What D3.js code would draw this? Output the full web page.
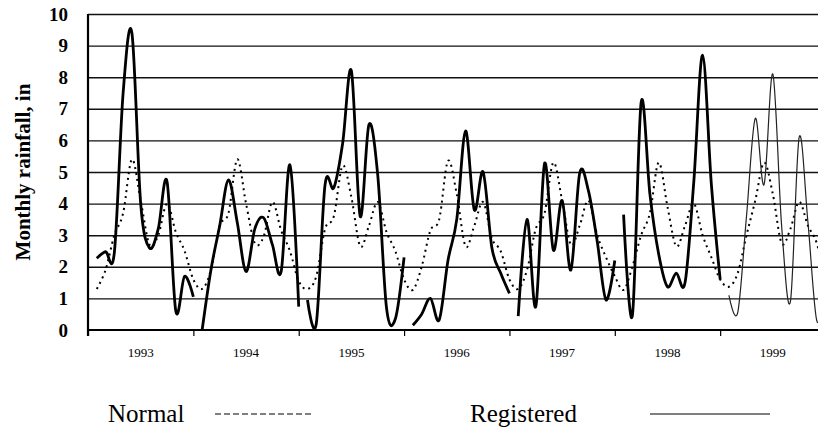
<!DOCTYPE html>
<html>
<head>
<meta charset="utf-8">
<script src="https://cdn.jsdelivr.net/npm/d3@7"></script>
<style>
  body { margin: 0; background: #fff; }
  svg { display: block; }
</style>
</head>
<body>
<svg id="chart" width="818" height="436"></svg>
<script>
// Years shown on the x axis (12 monthly values each)
const years = ["1993", "1994", "1995", "1996", "1997", "1998", "1999"];
const yTicks = [0, 1, 2, 3, 4, 5, 6, 7, 8, 9, 10];

// Registered monthly rainfall, inches (Jan..Dec)
const registered1993 = [2.27, 2.48, 2.45, 7.5, 9.4, 4.0, 2.6, 3.2, 4.7, 0.6, 1.7, 1.05];
const registered1994 = [0.0, 1.9, 3.3, 4.75, 3.4, 1.85, 3.2, 3.55, 2.7, 1.85, 5.22, 0.74];
const registered1995 = [0.95, 0.2, 4.6, 4.5, 5.9, 8.2, 3.6, 6.5, 4.9, 0.7, 0.35, 2.3];
const registered1996 = [0.15, 0.5, 1.0, 0.32, 2.2, 3.5, 6.3, 3.8, 5.0, 2.6, 1.8, 1.16];
const registered1997 = [0.44, 3.5, 0.74, 5.27, 2.53, 4.1, 1.9, 4.96, 4.4, 2.8, 0.95, 2.2];
const registered1998 = [3.65, 0.45, 7.2, 4.3, 2.4, 1.37, 1.8, 1.5, 4.7, 8.7, 4.6, 1.6];
const registered1999 = [1.1, 0.55, 3.6, 6.7, 4.6, 8.1, 3.3, 0.9, 6.1, 3.4, 0.3, 1.2];

// Normal monthly rainfall, inches (Jan..Dec)
const normal1993 = [1.3, 1.9, 3.0, 3.7, 5.4, 4.1, 2.7, 3.0, 4.0, 3.1, 2.5, 1.6];
const normal1994 = [1.3, 1.9, 3.3, 3.7, 5.4, 4.0, 2.75, 2.95, 4.05, 3.15, 2.5, 1.55];
const normal1995 = [1.3, 1.7, 3.2, 3.6, 5.2, 4.2, 2.65, 3.3, 4.05, 3.1, 2.5, 1.6];
const normal1996 = [1.27, 2.0, 3.15, 3.5, 5.35, 4.3, 2.65, 3.3, 4.05, 2.9, 2.5, 1.6];
const normal1997 = [1.3, 1.9, 3.2, 3.7, 5.3, 4.1, 2.7, 3.3, 4.1, 3.0, 2.3, 1.7];
const normal1998 = [1.27, 2.0, 3.0, 3.7, 5.3, 3.9, 2.65, 3.3, 4.0, 3.0, 2.3, 1.6];
const normal1999 = [1.37, 1.8, 3.0, 4.1, 5.3, 4.3, 2.75, 3.2, 4.06, 3.3, 2.75, 1.6];

const registeredByYear = [registered1993, registered1994, registered1995, registered1996,
                          registered1997, registered1998, registered1999];
const normalByYear = [normal1993, normal1994, normal1995, normal1996,
                      normal1997, normal1998, normal1999];

const svg = d3.select("#chart");
const W = 818;
const plot = { left: 88, top: 14, bottom: 330, right: W };
const monthWidth = 8.78;
const nMonths = years.length * 12;

// month index -> x (points sit at the end of each month slot)
const x = d3.scaleLinear().domain([0, nMonths]).range([plot.left, plot.left + nMonths * monthWidth]);
const y = d3.scaleLinear().domain([0, 10]).range([plot.bottom, plot.top]);

const serif = "'Liberation Serif', 'Times New Roman', serif";

// Horizontal gridlines
const grid = svg.append("g")
  .attr("transform", `translate(${plot.left},0)`)
  .call(d3.axisLeft(y).tickValues(yTicks.slice(1)).tickSize(-(plot.right - plot.left)).tickFormat(""));
grid.select(".domain").remove();
grid.selectAll(".tick line").attr("stroke", "#111").attr("stroke-width", 1.4);

// Y axis with bold labels
const yAxis = svg.append("g")
  .attr("transform", `translate(${plot.left},0)`)
  .call(d3.axisLeft(y).tickValues(yTicks).tickSize(0).tickPadding(20).tickFormat(d3.format("d")));
yAxis.select(".domain").remove();
yAxis.selectAll("text")
  .attr("font-family", serif).attr("font-weight", "bold").attr("font-size", 19).attr("fill", "#000");

// X axis with year separators
const xAxis = svg.append("g")
  .attr("transform", `translate(0,${plot.bottom})`)
  .call(d3.axisBottom(x).tickValues(d3.range(0, nMonths, 12)).tickSize(6).tickSizeOuter(0).tickFormat(""));
xAxis.select(".domain").attr("stroke", "#000").attr("stroke-width", 2)
  .attr("d", `M${plot.left},0H${plot.right}`);
xAxis.selectAll(".tick line").attr("stroke", "#000").attr("stroke-width", 1.2);

svg.append("g").selectAll("text")
  .data(years)
  .join("text")
  .attr("x", (d, k) => x(k * 12 + 6))
  .attr("y", 357)
  .attr("text-anchor", "middle")
  .attr("font-family", serif)
  .attr("font-size", 13)
  .attr("fill", "#000")
  .text(d => d);

// Left axis line
svg.append("line")
  .attr("x1", plot.left).attr("x2", plot.left)
  .attr("y1", plot.top).attr("y2", plot.bottom + 6)
  .attr("stroke", "#000").attr("stroke-width", 2.2);

// Y axis title
svg.append("text")
  .attr("transform", `translate(30,172) rotate(-90)`)
  .attr("text-anchor", "middle")
  .attr("font-family", serif)
  .attr("font-weight", "bold")
  .attr("font-size", 21)
  .attr("fill", "#000")
  .text("Monthly rainfall, in");

const line = d3.line()
  .x(d => x(d.i + 1))
  .y(d => y(d.v))
  .curve(d3.curveCatmullRom.alpha(0));

// Normal: one continuous dotted curve
const normalPoints = normalByYear.flat().map((v, i) => ({ i, v }));
svg.append("path")
  .datum(normalPoints)
  .attr("d", line)
  .attr("fill", "none")
  .attr("stroke", "#000")
  .attr("stroke-width", 2)
  .attr("stroke-dasharray", "2,4");

// Registered: one curve per year
registeredByYear.forEach((vals, k) => {
  const pts = vals.map((v, j) => ({ i: k * 12 + j, v }));
  const last = k === registeredByYear.length - 1;
  svg.append("path")
    .datum(pts)
    .attr("d", line)
    .attr("fill", "none")
    .attr("stroke", last ? "#222" : "#000")
    .attr("stroke-width", last ? 1.2 : 2.8)
    .attr("stroke-linejoin", "round");
});

// Legend
const legend = svg.append("g");
legend.append("text")
  .attr("x", 108).attr("y", 422)
  .attr("font-family", serif).attr("font-size", 25).attr("fill", "#000")
  .text("Normal");
legend.append("line")
  .attr("x1", 215).attr("x2", 312).attr("y1", 414).attr("y2", 414)
  .attr("stroke", "#000").attr("stroke-width", 1).attr("stroke-dasharray", "6,3");
legend.append("text")
  .attr("x", 470).attr("y", 422)
  .attr("font-family", serif).attr("font-size", 25).attr("fill", "#000")
  .text("Registered");
legend.append("line")
  .attr("x1", 650).attr("x2", 770).attr("y1", 414).attr("y2", 414)
  .attr("stroke", "#000").attr("stroke-width", 1);
</script>
</body>
</html>
